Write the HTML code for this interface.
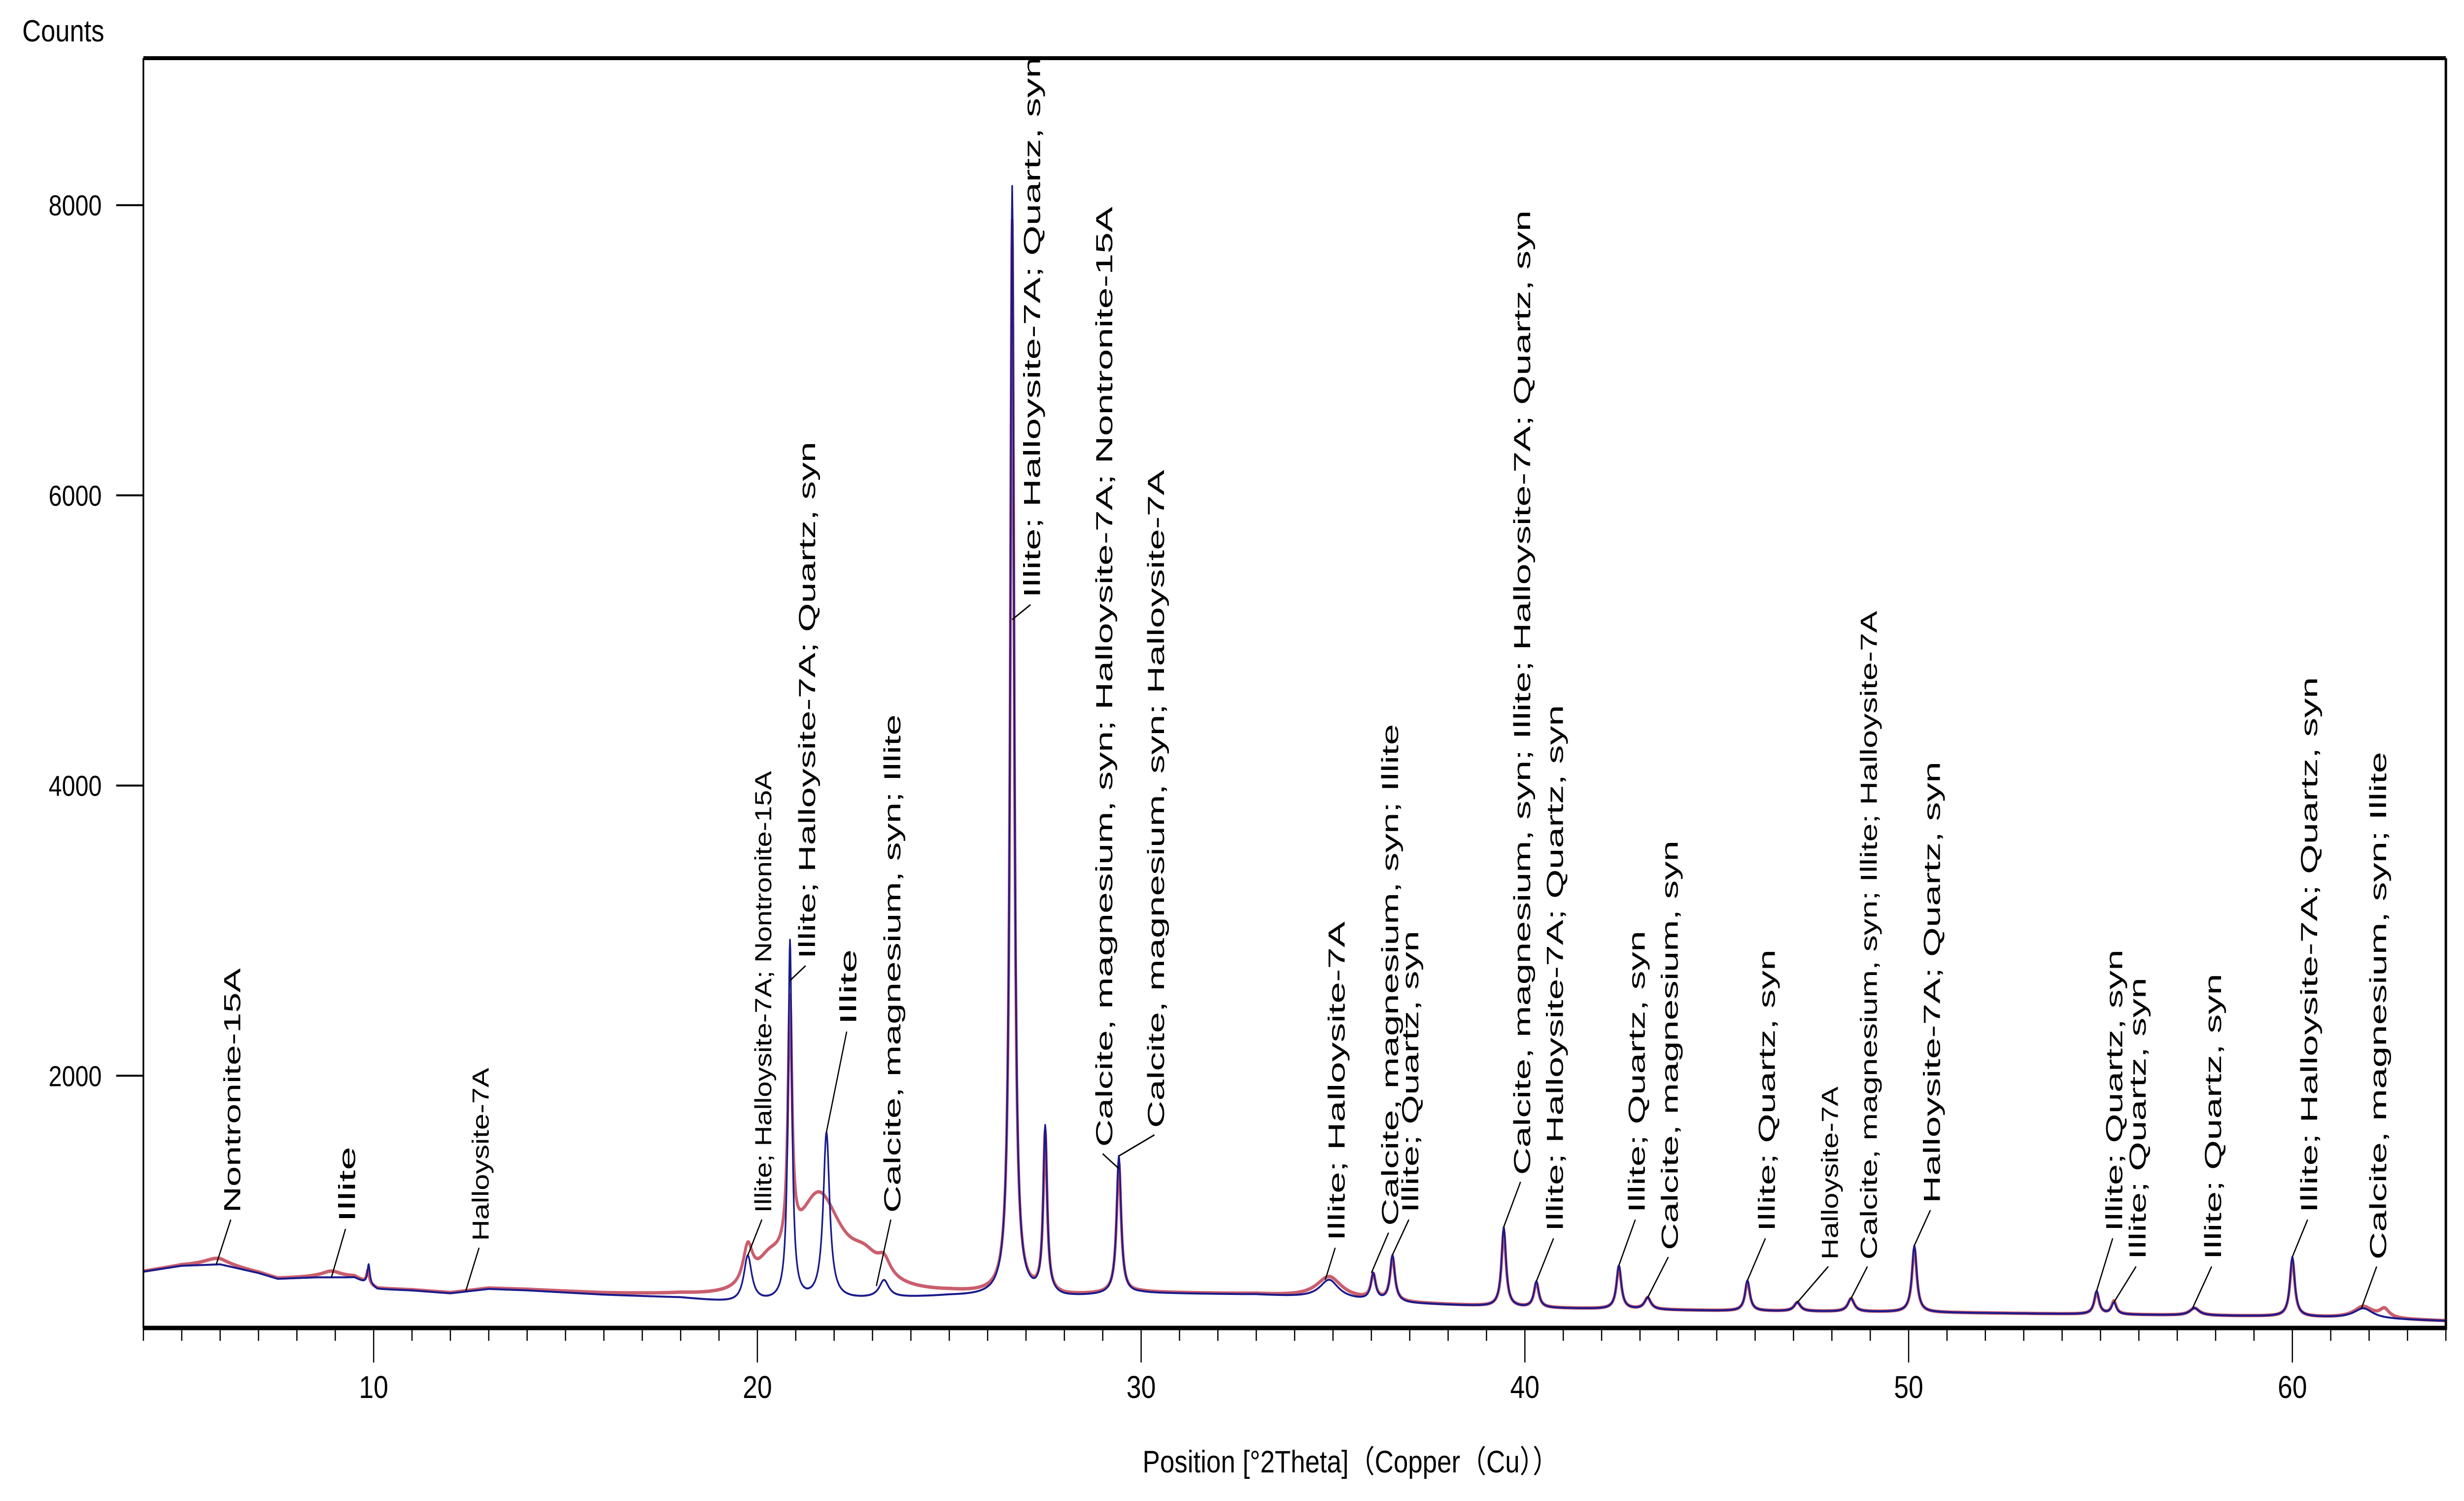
<!DOCTYPE html>
<html><head><meta charset="utf-8"><style>
html,body{margin:0;padding:0;background:#fff;overflow:hidden}
#chart{position:fixed;left:0;top:0;width:100vw;height:100vh;display:block}
text{font-family:"Liberation Sans","Noto Sans CJK SC",sans-serif;fill:#000}
</style></head>
<body>
<svg id="chart" viewBox="0 0 5980 3045" preserveAspectRatio="none" xmlns="http://www.w3.org/2000/svg">
<rect x="0" y="0" width="5980" height="3045" fill="#fff"/>
<g id="series"></g>
<g id="leaders"></g>
<g id="labels"></g>
<g id="axes"></g>
<text x="54" y="84" font-size="62" textLength="199" lengthAdjust="spacingAndGlyphs">Counts</text>
<text x="2773" y="2987" font-size="63" textLength="1010" lengthAdjust="spacingAndGlyphs">Position [°2Theta]（Copper（Cu））</text>
</svg>
<script>
// ---- data ----
const xTicks = [10,20,30,40,50,60];
const yTicks = [2000,4000,6000,8000];
const baseDeg = [4,5,6,7,7.5,8.5,9.5,10.1,11,12,13,14,16,18,19.5,21,23,25,28,30,33,37,40,45,50,55,60,64];
const baseCnt = [650,690,700,640,600,610,610,530,520,500,530,520,490,470,430,440,460,480,470,500,490,430,400,380,370,355,340,310];
// blue (calculated) peaks: position, height above background, fwhm
const bluePos = [9.87,19.75,20.85,21.8,23.3,26.64,27.5,29.42,34.9,36.05,36.55,39.45,40.3,42.45,43.2,45.8,47.1,48.5,50.15,54.9,55.35,57.45,60.0,61.85];
const blueHt  = [140,320,2480,1150,120,7650,1150,950,130,180,320,550,180,300,80,210,60,90,460,160,80,50,410,70];
const blueW   = [0.08,0.25,0.12,0.2,0.3,0.12,0.12,0.14,0.6,0.15,0.15,0.14,0.15,0.15,0.2,0.15,0.2,0.2,0.15,0.15,0.15,0.3,0.15,0.6];
// red (observed) peaks
const redPos = [5.9,8.9,9.85,19.75,20.3,20.85,21.6,22.8,23.3,26.64,27.5,29.42,34.9,36.05,36.55,39.45,40.3,42.45,43.2,45.8,47.1,48.5,50.15,54.9,55.35,57.45,60.0,61.85,62.4];
const redHt  = [40,40,90,260,150,1700,700,160,110,7400,1100,900,150,170,300,520,170,290,80,200,60,90,440,150,90,50,390,80,60];
const redW   = [0.8,0.6,0.08,0.3,0.8,0.13,1.5,1.0,0.4,0.12,0.12,0.14,0.8,0.15,0.15,0.14,0.15,0.15,0.2,0.15,0.2,0.2,0.15,0.15,0.15,0.3,0.15,0.6,0.3];
// peak labels
const labelText = ["Nontronite-15A","Illite","Halloysite-7A","Illite; Halloysite-7A; Nontronite-15A","Illite; Halloysite-7A; Quartz, syn","Illite","Calcite, magnesium, syn; Illite","Illite; Halloysite-7A; Quartz, syn","Calcite, magnesium, syn; Halloysite-7A; Nontronite-15A","Calcite, magnesium, syn; Halloysite-7A","Illite; Halloysite-7A","Calcite, magnesium, syn; Illite","Illite; Quartz, syn","Calcite, magnesium, syn; Illite; Halloysite-7A; Quartz, syn","Illite; Halloysite-7A; Quartz, syn","Illite; Quartz, syn","Calcite, magnesium, syn","Illite; Quartz, syn","Halloysite-7A","Calcite, magnesium, syn; Illite; Halloysite-7A","Halloysite-7A; Quartz, syn","Illite; Quartz, syn","Illite; Quartz, syn","Illite; Quartz, syn","Illite; Halloysite-7A; Quartz, syn","Calcite, magnesium, syn; Illite"];
const labelPeak = [5.9,8.9,12.4,19.75,20.85,21.8,23.1,26.64,29.42,29.42,34.8,36.0,36.55,39.45,40.3,42.45,43.2,45.8,47.1,48.5,50.15,54.9,55.35,57.4,60.0,61.8];
const labelDeg = [6.32,9.31,12.79,20.16,21.30,22.37,23.52,27.16,29.04,30.39,35.10,36.49,37.02,39.93,40.79,42.92,43.78,46.31,47.95,48.97,50.61,55.36,55.97,57.94,60.44,62.24];
const labelCnt = [1056,992,862,1056,2806,2352,1056,5294,1510,1640,862,966,1056,1316,927,1056,798,927,733,733,1121,927,733,733,1056,733];
const labelLen = [496,153,351,896,1049,153,1011,1098,1907,1335,648,1018,572,1957,1068,572,831,572,351,1316,896,572,572,580,1087,1030];

// ---- axes ----
const X0=348, X1=5936, Y0=118, Y1=2694;
const xMin=4, xMax=64;
const X = d => X0 + (d - xMin) * (X1 - X0) / (xMax - xMin);
const Y = c => 2771 - c * 0.294350;
const NS="http://www.w3.org/2000/svg";
function mk(tag, attrs, parent){const e=document.createElementNS(NS,tag);for(const k in attrs)e.setAttribute(k,attrs[k]);parent.appendChild(e);return e;}
function base(d){
  if(d<=baseDeg[0])return baseCnt[0];
  for(let i=1;i<baseDeg.length;i++){if(d<=baseDeg[i]){const f=(d-baseDeg[i-1])/(baseDeg[i]-baseDeg[i-1]);return baseCnt[i-1]+f*(baseCnt[i]-baseCnt[i-1]);}}
  return baseCnt[baseCnt.length-1];
}
function curve(d,P,H,W){let s=base(d);for(let i=0;i<P.length;i++){const u=(d-P[i])/(W[i]/2);s+=H[i]/(1+u*u);}return s;}
function pathFor(P,H,W){let s="";for(let d=xMin;d<=xMax+1e-9;d+=0.01){s+=(s?"L":"M")+X(d).toFixed(1)+","+Y(curve(d,P,H,W)).toFixed(1);}return s;}

const series=document.getElementById('series');
const red=mk('path',{d:pathFor(redPos,redHt,redW),fill:'none',stroke:'#b8283c','stroke-width':7,'stroke-opacity':0.75,'stroke-linejoin':'round'},series);


const blue=mk('path',{d:pathFor(bluePos,blueHt,blueW),fill:'none',stroke:'#1a1a8c','stroke-width':4,'stroke-linejoin':'round'},series);



const axes=document.getElementById('axes');
const frame=mk('g',{},axes);


mk('line',{x1:X0,y1:Y0,x2:X1,y2:Y0,stroke:'#000','stroke-width':8},frame);
mk('line',{x1:X0,y1:Y0,x2:X0,y2:Y1,stroke:'#000','stroke-width':4},frame);
mk('line',{x1:X1,y1:Y0,x2:X1,y2:Y1+4,stroke:'#000','stroke-width':6},frame);
mk('line',{x1:X0,y1:Y1,x2:X1,y2:Y1,stroke:'#000','stroke-width':9},frame);
for(let d=xMin; d<=xMax; d++){
  const major = xTicks.indexOf(d)>=0;
  const t=mk('line',{x1:X(d),y1:Y1,x2:X(d),y2:major?2764:2720,stroke:'#000','stroke-width':3},axes);
  
  
}
xTicks.forEach(v=>{
  const t=mk('text',{x:X(v),y:2836,'font-size':64,'text-anchor':'middle'},axes);
  t.textContent=v;
  
  
});
yTicks.forEach(v=>{
  const l=mk('line',{x1:282,y1:Y(v),x2:X0,y2:Y(v),stroke:'#000','stroke-width':4},axes);
  
  
  const t=mk('text',{x:247,y:Y(v)+21,'font-size':58,'text-anchor':'end'},axes);
  t.textContent=v;
  
  
});

// ---- labels ----
const lg=document.getElementById('labels'), ld=document.getElementById('leaders');
labelText.forEach((s,i)=>{
  const lx=X(labelDeg[i]), ly=Y(labelCnt[i]);
  let pk=0;for(let d=labelPeak[i]-0.1;d<=labelPeak[i]+0.1;d+=0.01)pk=Math.max(pk,curve(d,bluePos,blueHt,blueW));
  const sc=Math.min(pk,labelCnt[i]-150);
  const ln=mk('line',{x1:X(labelPeak[i]),y1:Y(sc),x2:lx-4,y2:ly+14,stroke:'#000','stroke-width':3},ld);
  
  
  const t=mk('text',{x:0,y:0,'font-size':56,transform:`translate(${(lx+19).toFixed(1)},${ly.toFixed(1)}) rotate(-90)`,textLength:labelLen[i],lengthAdjust:'spacingAndGlyphs'},lg);
  t.textContent=s;
  
  
});
</script>
</body></html>
